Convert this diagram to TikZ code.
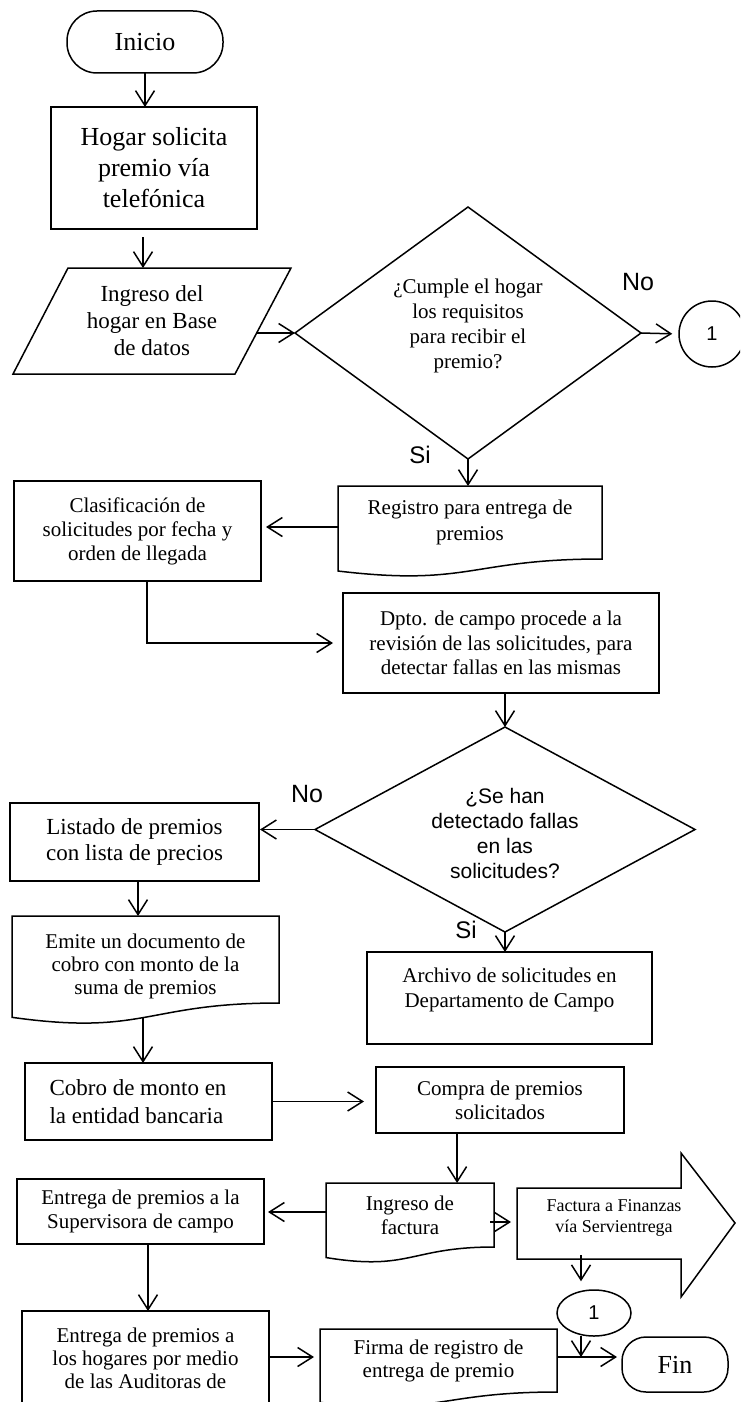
\documentclass[tikz,border=0pt]{standalone}
\usepackage{fontspec}
\setmainfont{Liberation Serif}
\newfontfamily\arialf{Liberation Sans}
\usetikzlibrary{arrows.meta,calc,shapes.geometric}
\newcommand{\docoutline}[2]{\draw[line] (#1.north west) -- (#1.north east) -- (#1.south east) .. controls (#1.south) and ($(#1.south)+(0,0.38*#2)$) .. ($(#1.south west)+(0,0.1646*#2)$) -- cycle;}
\begin{document}
\begin{tikzpicture}[x=1pt,y=-1pt,
  line/.style={draw=black,line width=1.5pt},
  arr/.style={line width=1.5pt,-{Straight Barb[length=15pt,width=19pt]}},
  box/.style={draw=black,line width=1.5pt,rectangle,inner sep=0pt,outer sep=0pt,align=center},
  shp/.style={rectangle,inner sep=0pt,outer sep=0pt,draw=none,align=center},
  txt/.style={inner sep=0pt,align=center},
  fa/.style={font=\fontsize{21}{24}\selectfont},
  fb/.style={font=\fontsize{21}{25}\selectfont},
  fc/.style={font=\fontsize{21}{23}\selectfont},
  sans/.style={font=\arialf\fontsize{#1}{#1}\selectfont}
]
\useasboundingbox (0,0) rectangle (740,1402);
\clip (0,0) rectangle (740,1402);

% Inicio
\node[box, rounded corners=30pt, minimum width=156pt, minimum height=62pt, font=\fontsize{26}{30}\selectfont] (inicio) at (145,42) {Inicio};
% Hogar
\node[box, minimum width=206pt, minimum height=122pt, font=\fontsize{26}{31}\selectfont] (hogar) at (154,168) {Hogar solicita\\premio vía\\telefónica};
% Ingreso parallelogram
\node[shp, minimum width=278pt, minimum height=106pt, font=\fontsize{23}{27}\selectfont] (ing) at (152,321) {Ingreso del\\hogar en Base\\de datos};
\draw[line] ($(ing.north west)+(55,0)$) -- (ing.north east) -- ($(ing.south east)+(-56,0)$) -- (ing.south west) -- cycle;
% Decision 1
\node[shp, minimum width=346pt, minimum height=252pt] (dia1) at (468,333) {};
\draw[line] (dia1.north) -- (dia1.east) -- (dia1.south) -- (dia1.west) -- cycle;
\node[txt, fb] (dia1t) at (468,326) {¿Cumple el hogar\\los requisitos\\para recibir el\\premio?};
\node[txt, sans=25] (no1) at (638,282) {No};
\node[circle, draw=black, line width=1.5pt, minimum size=66pt, inner sep=0pt, sans=20] (c1) at (712,334) {1};
\node[txt, sans=24] (si1) at (420,455) {Si};
% Registro doc
\node[shp, minimum width=264pt, minimum height=73pt, font=\fontsize{21}{26}\selectfont] (reg) at (470,522.5) {Registro para entrega de\\premios};
\docoutline{reg}{73}
% Clasificacion
\node[box, minimum width=247pt, minimum height=100pt, fa] (clas) at (137.5,531) {Clasificación de\\solicitudes por fecha y\\orden de llegada};
% Dpto
\node[box, minimum width=316pt, minimum height=100pt, font=\fontsize{21}{24.5}\selectfont] (dpto) at (501,643) {Dpto. de campo procede a la\\revisión de las solicitudes, para\\detectar fallas en las mismas};
% Decision 2
\node[shp, minimum width=380pt, minimum height=205pt] (dia2) at (505,829.5) {};
\draw[line] (dia2.north) -- (dia2.east) -- (dia2.south) -- (dia2.west) -- cycle;
\node[txt, font=\arialf\fontsize{21}{25}\selectfont] (dia2t) at (505,833.5) {¿Se han\\detectado fallas\\en las\\solicitudes?};
\node[txt, sans=25] (no2) at (307,794) {No};
\node[txt, sans=24] (si2) at (466,930) {Si};
% Listado
\node[box, minimum width=249pt, minimum height=78pt, font=\fontsize{23}{26}\selectfont] (lis) at (134.5,842) {Listado de premios\\con lista de precios};
% Archivo
\node[box, minimum width=285pt, minimum height=92pt] (arch) at (509.5,998) {};
\node[txt, fb] (archt) at (509.5,990) {Archivo de solicitudes en\\Departamento de Campo};
% Emite doc
\node[shp, minimum width=267pt, minimum height=87pt] (emi) at (145.5,959.5) {};
\docoutline{emi}{87}
\node[txt, fc] (emit) at (145.5,966) {Emite un documento de\\cobro con monto de la\\suma de premios};
% Cobro
\node[box, minimum width=247pt, minimum height=77pt] (cob) at (148.5,1101.5) {};
\node[txt, align=left, font=\fontsize{23}{28}\selectfont] (cobt) at (138,1102) {Cobro de monto en\\la entidad bancaria};
% Compra
\node[box, minimum width=248pt, minimum height=66pt, fa] (comp) at (500,1100) {Compra de premios\\solicitados};
% Ingreso de factura doc
\node[shp, minimum width=168pt, minimum height=64pt, fa] (ingf) at (410,1215) {Ingreso de\\factura};
\docoutline{ingf}{64}
% Entrega 1
\node[box, minimum width=247pt, minimum height=65pt, fa] (ent1) at (140.5,1211.5) {Entrega de premios a la\\Supervisora de campo};
% Factura block arrow
\node[shp, minimum width=218pt, minimum height=144pt] (fac) at (626,1225) {};
\draw[line, shift={(fac.center)}] (-109,-37) -- (55,-37) -- (55,-72) -- (109,-2) -- (55,72) -- (55,34) -- (-109,34) -- cycle;
\node[txt, font=\fontsize{18}{21}\selectfont] (fact) at (614,1217.5) {Factura a Finanzas\\vía Servientrega};
% Connector 2
\node[ellipse, draw=black, line width=1.5pt, minimum width=74pt, minimum height=46pt, inner sep=0pt, sans=20] (c2) at (594,1313) {1};
% Entrega 2
\node[box, minimum width=247pt, minimum height=130pt] (ent2) at (145.5,1376) {};
\node[txt, fc] (ent2t) at (145.5,1358) {Entrega de premios a\\los hogares por medio\\de las Auditoras de};
% Firma doc
\node[shp, minimum width=237pt, minimum height=63pt, fc] (firma) at (438.5,1360.5) {Firma de registro de\\entrega de premio};
\docoutline{firma}{63}
% Fin
\node[box, rounded corners=24pt, minimum width=106pt, minimum height=55pt, font=\fontsize{26}{30}\selectfont] (fin) at (675,1364.5) {Fin};

% Connectors
\draw[arr] (inicio.south) -- (inicio.south |- hogar.north);
\draw[arr, shorten <=8pt] ([xshift=-11pt]hogar.south) -- ([xshift=-11pt]hogar.south |- ing.north);
\coordinate (ingR) at (257,333);
\draw[arr] (ingR) -- (dia1.west);
\draw[arr, shorten >=6pt] (dia1.east) -- (c1.west);
\draw[arr] (dia1.south) -- (dia1.south |- reg.north);
\coordinate (regL) at ($(reg.west)+(0,4.5)$);
\draw[arr, shorten >=5pt] (regL) -- (regL -| clas.east);
\draw[arr, shorten >=10pt] ([xshift=9.5pt]clas.south) |- (dpto.west);
\draw[arr] (dia2.north |- dpto.south) -- (dia2.north);
\draw[arr, shorten >=1pt] (dia2.west) -- (dia2.west -| lis.east);
\draw[arr] (dia2.south) -- (dia2.south |- arch.north);
\draw[arr] ([xshift=3.5pt]lis.south) -- ([xshift=3.5pt]lis.south |- emi.north);
\coordinate (emiB) at ($(emi.south)+(-2.5,14)$);
\draw[arr] (emiB) -- (emiB |- cob.north);
\draw[arr, shorten >=12pt] (cob.east) -- (cob.east -| comp.west);
\coordinate (compB) at ($(comp.south west)!0.327!(comp.south east)$);
\draw[arr] (compB) -- (compB |- ingf.north);
\draw[arr, shorten >=4pt] ([yshift=3pt]ingf.west) -- ([yshift=3pt]ingf.west -| ent1.east);
\coordinate (ingfR) at ($(ingf.east)+(-4,7)$);
\draw[arr, shorten >=6pt] (ingfR) -- (ingfR -| fac.west);
\draw[arr] ([xshift=7.5pt]ent1.south) -- ([xshift=7.5pt]ent1.south |- ent2.north);
\coordinate (facB) at ($(fac.center)+(-45,30)$);
\draw[arr, shorten >=8pt] (facB) -- (facB |- c2.north);
\coordinate (fr) at ($(firma.north east)+(0,28)$);
\coordinate (c2B) at ($(c2.south)+(-13,-1)$);
\draw[arr] (c2B) -- (c2B |- fr);
\draw[arr, shorten >=5pt] (fr) -- (fr -| fin.west);
\draw[arr, shorten >=6pt] (ent2.east |- fr) -- (firma.west |- fr);
\end{tikzpicture}
\end{document}
